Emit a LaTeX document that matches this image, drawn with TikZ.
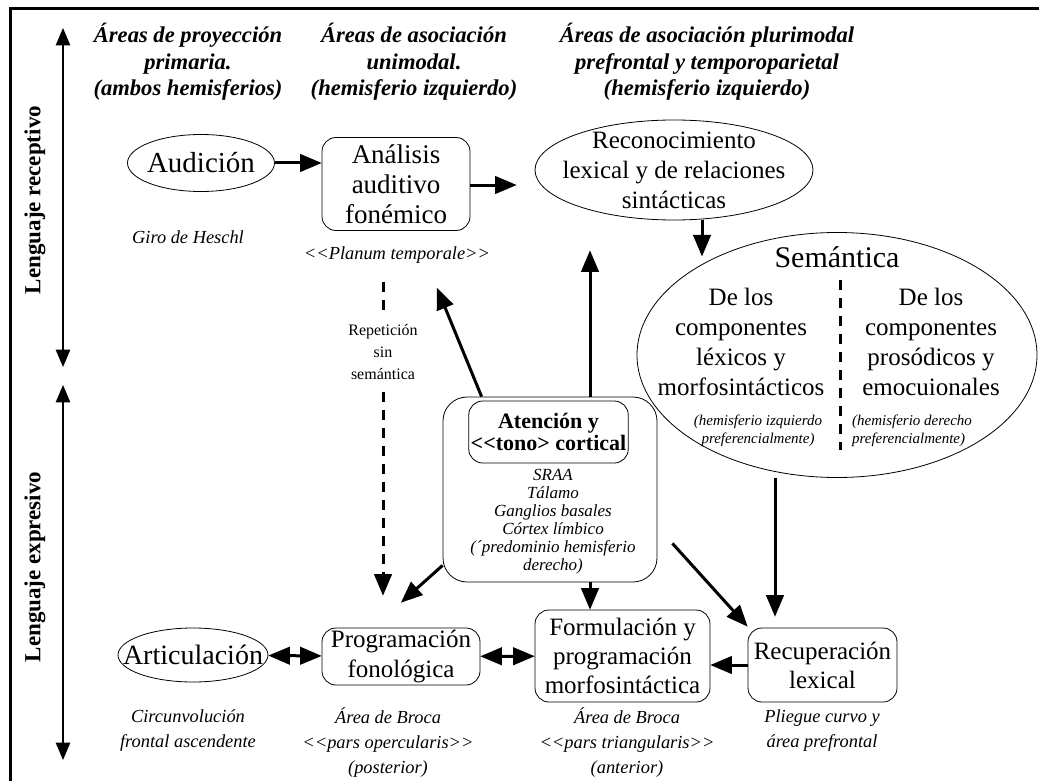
\documentclass[tikz,border=0pt]{standalone}
\usepackage{fontspec}
\setmainfont{Liberation Serif}
\usetikzlibrary{arrows,positioning,shapes.geometric}

\begin{document}
\begin{tikzpicture}[x=0.5pt,y=-0.5pt,->,>=triangle 45,line width=1.5pt]
  \tikzstyle{caja}=[draw,thin,rounded corners=7pt,align=center,inner sep=1pt,font=\fontsize{12.5}{14.5}\selectfont]
  \tikzstyle{elipse}=[draw,thin,ellipse,align=center,inner sep=-20pt,font=\fontsize{12.5}{15}\selectfont]
  \tikzstyle{titulo}=[align=center,font=\fontsize{11.3}{13.25}\selectfont\bfseries\itshape]
  \tikzstyle{lado}=[rotate=90,font=\fontsize{11.5}{13}\selectfont\bfseries]
  \tikzstyle{nota}=[align=center,font=\fontsize{9.2}{12.5}\selectfont\itshape]
  \tikzstyle{guion}=[dash pattern=on 5pt off 4pt]

  \useasboundingbox (0,0) rectangle (1039,781);
  \draw[-] (10,781) -- (10,9) -- (1039,9);

  \node[lado] (receptivo) at (35,200) {Lenguaje receptivo};
  \node[lado] (expresivo) at (35,567) {Lenguaje expresivo};
  \coordinate (r1) at (63,28);
  \coordinate (r2) at (63,367);
  \coordinate (e1) at (63,385);
  \coordinate (e2) at (63,760);
  \draw[<->,line width=1pt] (r1) -- (r2);
  \draw[<->,line width=1pt] (e1) -- (e2);

  \node[titulo] (proyeccion) at (188,62) {Áreas de proyección\\primaria.\\(ambos hemisferios)};
  \node[titulo] (unimodal)   at (414,62) {Áreas de asociación\\unimodal.\\(hemisferio izquierdo)};
  \node[titulo] (plurimodal) at (707,62) {Áreas de asociación plurimodal\\prefrontal y temporoparietal\\(hemisferio izquierdo)};

  \node[elipse,minimum width=73.5pt,minimum height=28.5pt,font=\fontsize{14.5}{15}\selectfont] (audicion) at (201,163) {Audición};
  \node[caja,minimum width=74pt,minimum height=46.5pt,font=\fontsize{13.5}{15}\selectfont] (analisis) at (396,184) {Análisis\\auditivo\\fonémico};
  \node[elipse,minimum width=139pt,minimum height=50pt] (reconocimiento) at (674,170) {Reconocimiento\\lexical y de relaciones\\sintácticas};
  \node[nota] (heschl) at (188,237) {Giro de Heschl};
  \node[nota] (planum) at (397,255) {<{}<Planum temporale>{}>};

  \node[elipse,minimum width=200pt,minimum height=122.5pt] (semantica) at (837,355) {};
  \node[font=\fontsize{15}{15}\selectfont] (semtitulo) at (837,257) {Semántica};
  \node[align=center,font=\fontsize{12.5}{15}\selectfont] (lexicos) at (741,342) {De los\\componentes\\léxicos y\\morfosintácticos};
  \node[align=center,font=\fontsize{12.5}{15}\selectfont] (prosodicos) at (931,342) {De los\\componentes\\prosódicos y\\emocuionales};
  \node[nota,font=\fontsize{7.5}{9}\selectfont\itshape] (izquierdo) at (758,431) {(hemisferio izquierdo\\preferencialmente)};
  \node[nota,align=left,font=\fontsize{7.5}{9}\selectfont\itshape] (derecho) at (912,431) {(hemisferio derecho\\preferencialmente)};
  \coordinate (d1) at (840,280);
  \coordinate (d2) at (840,450);
  \draw[-,guion] (d1) -- (d2);

  \node[caja,rounded corners=12pt,minimum width=107pt,minimum height=92.5pt] (atencion) at (550,489.5) {};
  \node[caja,font=\fontsize{11}{11}\selectfont\bfseries,minimum width=78.5pt,minimum height=31pt] (tono) at (548.5,432) {Atención y\\<{}<tono> cortical};
  \node[nota,font=\fontsize{8.5}{9}\selectfont\itshape] (nucleos) at (553,522) {SRAA\\Tálamo\\Ganglios basales\\Córtex límbico\\(´predominio hemisferio\\derecho)};

  \node[font=\fontsize{8}{11}\selectfont,align=center] (repeticion) at (383,352) {Repetición\\sin\\semántica};

  \node[elipse,minimum width=75pt,minimum height=27pt,font=\fontsize{14}{14}\selectfont] (articulacion) at (193,655) {Articulación};
  \node[caja,minimum width=79pt,minimum height=28.5pt] (programacion) at (401,656.5) {Programación\\fonológica};
  \node[caja,minimum width=87.5pt,minimum height=46pt] (formulacion) at (622.5,656) {Formulación y\\programación\\morfosintáctica};
  \node[caja,minimum width=74.5pt,minimum height=37pt] (recuperacion) at (822.5,665) {Recuperación\\lexical};

  \node[nota] (circunvolucion) at (188,730.5) {Circunvolución\\frontal ascendente};
  \node[nota] (opercularis) at (388,743) {Área de Broca\\<{}<pars opercularis>{}>\\(posterior)};
  \node[nota] (triangularis) at (627,743) {Área de Broca\\<{}<pars triangularis>{}>\\(anterior)};
  \node[nota] (pliegue) at (822,730.5) {Pliegue curvo y\\área prefrontal};

  \draw (audicion) -- (audicion -| analisis.west);
  \draw[shorten >=9pt] ([yshift=-0.5pt]analisis.east) -- ([yshift=-0.5pt]analisis.east -| reconocimiento.west);
  \draw ([xshift=14pt]reconocimiento.south) -- ++(0,36);
  \draw[shorten >=15pt] ([xshift=20pt]atencion.north) -- ([xshift=20pt]atencion.north |- reconocimiento.south);
  \draw ([xshift=19.5pt]atencion.north west) -- ([xshift=20.5pt,yshift=-28.5pt]analisis.south);
  \draw[-,guion] ([yshift=-5pt]planum.south -| repeticion.north) -- ([yshift=3pt]repeticion.north);
  \draw[guion] ([yshift=-2pt]repeticion.south) -- ([yshift=16pt]repeticion.south |- programacion.north);
  \draw ([yshift=8.5pt]atencion.south west) -- ([yshift=12.5pt]programacion.north);
  \draw ([xshift=20pt]atencion.south) -- ([xshift=20pt]atencion.south |- formulacion.north);
  \draw ([xshift=7.5pt,yshift=19.5pt]atencion.south east) -- ([yshift=0.5pt]recuperacion.north west);
  \draw ([xshift=-31pt]semantica.south) -- ([xshift=-31pt,yshift=5.5pt]semantica.south |- recuperacion.north);
  \draw[<->] (articulacion) -- (programacion);
  \draw[<->] (programacion) -- (formulacion);
  \draw (recuperacion) -- (recuperacion -| formulacion.east);
\end{tikzpicture}
\end{document}
